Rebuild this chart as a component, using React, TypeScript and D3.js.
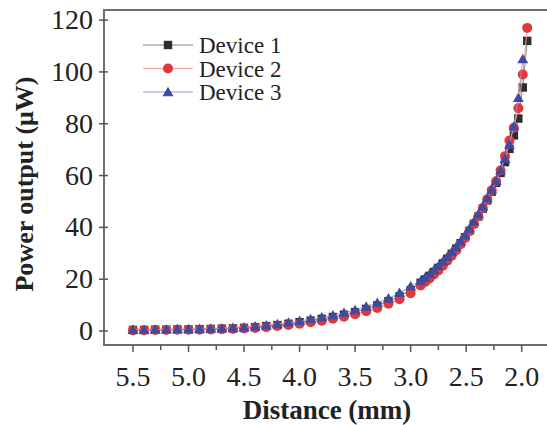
import React from "react";
import * as d3 from "d3";

const W = 547;
const H = 425;

const distances = [
  5.5, 5.4, 5.3, 5.2, 5.1, 5.0, 4.9, 4.8, 4.7, 4.6, 4.5, 4.4, 4.3, 4.2, 4.1, 4.0,
  3.9, 3.8, 3.7, 3.6, 3.5, 3.4, 3.3, 3.2, 3.1, 3.0,
  2.91, 2.87, 2.83, 2.79, 2.75, 2.71, 2.67, 2.63, 2.59, 2.55, 2.51, 2.47, 2.43,
  2.39, 2.35, 2.31, 2.27, 2.23, 2.19, 2.15, 2.11, 2.07, 2.03, 1.99, 1.95,
];

const device1 = [
  0.4, 0.4, 0.5, 0.5, 0.6, 0.6, 0.7, 0.8, 0.9, 1.0, 1.2, 1.5, 1.9, 2.3, 2.8, 3.4,
  4.0, 4.7, 5.4, 6.3, 7.3, 8.5, 9.9, 11.5, 13.4, 15.8,
  18.6, 19.9, 21.3, 22.8, 24.4, 26.1, 27.9, 29.8, 31.8, 33.9, 36.2, 38.7, 41.4,
  44.2, 47.2, 50.4, 53.8, 57.2, 61.0, 65.2, 70.3, 75.5, 82.0, 94.0, 112.0,
];

const device2 = [
  0.3, 0.3, 0.4, 0.4, 0.5, 0.5, 0.5, 0.6, 0.7, 0.8, 1.0, 1.2, 1.5, 1.9, 2.3, 2.8,
  3.4, 4.0, 4.7, 5.5, 6.5, 7.6, 8.9, 10.5, 12.3, 14.6,
  17.6, 18.9, 20.3, 21.8, 23.4, 25.2, 27.1, 29.1, 31.2, 33.5, 35.9, 38.5, 41.3,
  44.3, 47.5, 50.8, 54.3, 57.8, 62.0, 67.5, 73.5, 78.5, 86.0, 99.0, 117.0,
];

const device3 = [
  0.5, 0.5, 0.6, 0.6, 0.7, 0.7, 0.8, 0.9, 1.0, 1.2, 1.4, 1.8, 2.2, 2.7, 3.3, 3.9,
  4.6, 5.3, 6.1, 7.0, 8.1, 9.4, 10.9, 12.6, 14.7, 17.2,
  19.3, 20.6, 22.0, 23.5, 25.1, 26.8, 28.6, 30.5, 32.5, 34.6, 36.9, 39.5, 42.2,
  45.0, 48.0, 51.2, 54.6, 58.0, 62.0, 66.5, 72.0, 79.0, 90.0, 105.0,
];

const seriesNames = ["Device 1", "Device 2", "Device 3"];
const xTicks = [5.5, 5.0, 4.5, 4.0, 3.5, 3.0, 2.5, 2.0];
const xMinorTicks = [5.25, 4.75, 4.25, 3.75, 3.25, 2.75, 2.25];
const yTicks = [0, 20, 40, 60, 80, 100, 120];

const FONT = "'Liberation Serif', 'Times New Roman', serif";

const styles = [
  { marker: "square", fill: "#2e2e2e", line: "#8a8a8a" },
  { marker: "circle", fill: "#e2373b", line: "#f29a9a" },
  { marker: "triangle", fill: "#3e4b9e", line: "#8f9ad6" },
];

function Marker({ type, x, y, fill }: { type: string; x: number; y: number; fill: string }) {
  if (type === "square") {
    return <rect x={x - 4.2} y={y - 4.2} width={8.4} height={8.4} fill={fill} />;
  }
  if (type === "circle") {
    return <circle cx={x} cy={y} r={5} fill={fill} />;
  }
  const p = d3.symbol().type(d3.symbolTriangle).size(52)() as string;
  return <path d={p} transform={`translate(${x},${y + 1})`} fill={fill} />;
}

export default function App() {
  const left = 104;
  const top = 10;
  const bottom = 345;
  const right = 552;

  const x = d3.scaleLinear().domain([5.761, 1.727]).range([left, right]);
  const y = d3.scaleLinear().domain([-5.4, 123.9]).range([bottom, top]);

  const data = [device1, device2, device3];

  const lineGen = d3
    .line<[number, number]>()
    .x((d) => x(d[0]))
    .y((d) => y(d[1]));

  return (
    <svg
      width={W}
      height={H}
      style={{ position: "fixed", left: 0, top: 0, background: "#fff" }}
    >
      <rect x={0} y={0} width={W} height={H} fill="#fff" />
      {data.map((vals, si) => {
        const pts: [number, number][] = vals.map((v, i) => [distances[i], v]);
        return (
          <g key={si}>
            <path d={lineGen(pts) as string} fill="none" stroke={styles[si].line} strokeWidth={1} />
            {pts.map((p, i) => (
              <Marker key={i} type={styles[si].marker} x={x(p[0])} y={y(p[1])} fill={styles[si].fill} />
            ))}
          </g>
        );
      })}

      <path
        d={`M${right},${top}H${left}V${bottom}H${right}`}
        fill="none"
        stroke="#6e6e6e"
        strokeWidth={2}
      />

      {xTicks.map((t) => (
        <g key={t}>
          <line x1={x(t)} x2={x(t)} y1={bottom} y2={bottom + 7} stroke="#555" strokeWidth={1.5} />
          <text
            x={x(t)}
            y={386}
            textAnchor="middle"
            fontFamily={FONT}
            fontSize={28}
            fill="#222"
          >
            {t.toFixed(1)}
          </text>
        </g>
      ))}
      {xMinorTicks.map((t) => (
        <line key={t} x1={x(t)} x2={x(t)} y1={bottom} y2={bottom + 5} stroke="#555" strokeWidth={1.5} />
      ))}

      {yTicks.map((t) => (
        <g key={t}>
          <line x1={left - 5} x2={left + 4} y1={y(t)} y2={y(t)} stroke="#555" strokeWidth={1.5} />
          <text
            x={93}
            y={y(t) + 9}
            textAnchor="end"
            fontFamily={FONT}
            fontSize={28}
            fill="#222"
          >
            {t}
          </text>
        </g>
      ))}

      <text
        x={327}
        y={419}
        textAnchor="middle"
        fontFamily={FONT}
        fontSize={27}
        fontWeight="bold"
        fill="#222"
      >
        Distance (mm)
      </text>
      <text
        transform={`translate(33,184) rotate(-90)`}
        textAnchor="middle"
        fontFamily={FONT}
        fontSize={26}
        fontWeight="bold"
        fill="#222"
      >
        Power output (μW)
      </text>

      {seriesNames.map((name, i) => {
        const cy = 45 + i * 23.5;
        return (
          <g key={name}>
            <line x1={143} x2={193} y1={cy} y2={cy} stroke={styles[i].line} strokeWidth={1.2} />
            <Marker type={styles[i].marker} x={168} y={cy} fill={styles[i].fill} />
            <text x={199} y={cy + 8} fontFamily={FONT} fontSize={23} fill="#222">
              {name}
            </text>
          </g>
        );
      })}
    </svg>
  );
}
